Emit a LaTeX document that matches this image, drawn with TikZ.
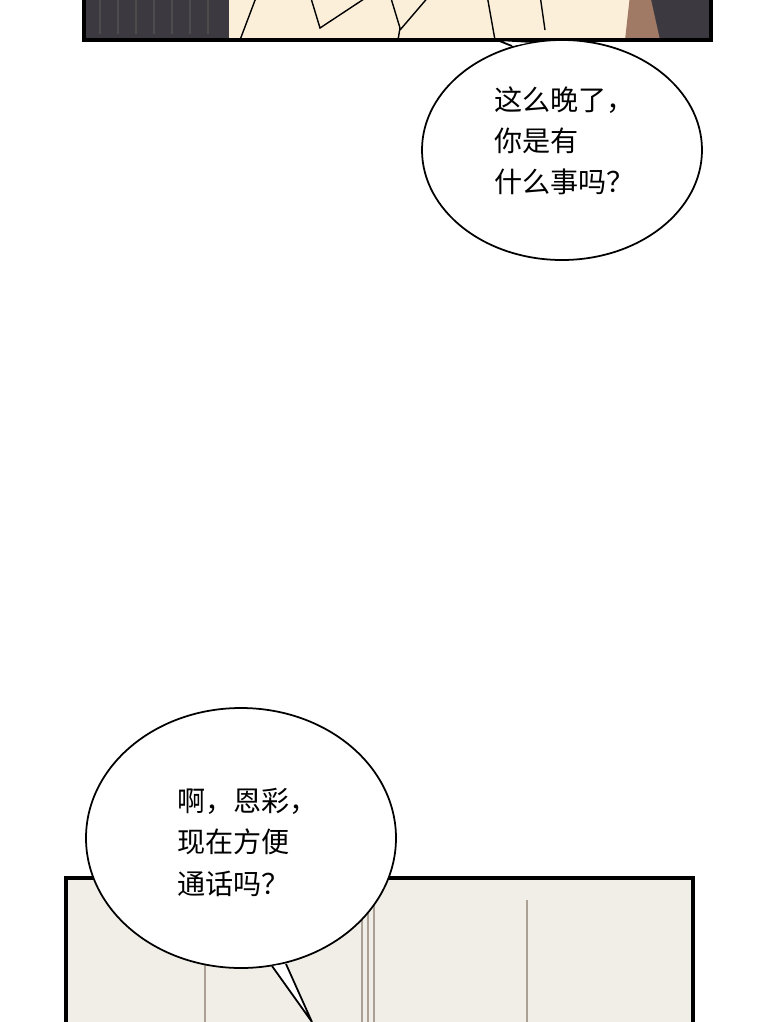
\documentclass[tikz,border=0pt]{standalone}
\usepackage{fontspec}
\newfontfamily\cjk{Noto Sans CJK SC}
\usetikzlibrary{positioning}
\definecolor{nightgray}{RGB}{60,58,64}
\definecolor{skinbeige}{RGB}{251,239,217}
\definecolor{hairbrown}{RGB}{160,122,100}
\definecolor{wallbeige}{RGB}{241,238,232}
\definecolor{lineline}{RGB}{170,160,150}
\tikzset{
  panel/.style={draw=black, line width=1.8pt},
  bubble/.style={draw=black, fill=white, line width=1pt},
  speech/.style={font=\cjk\fontsize{16}{23.5}\selectfont, align=left, anchor=north west, inner sep=0pt}
}
\begin{document}
\begin{tikzpicture}[x=0.02cm, y=-0.02cm]
    \useasboundingbox (0,0) rectangle (760,1022);
    % Top panel
    \fill[nightgray] (84,-5) rectangle (711,40);
    \fill[skinbeige] (229,-5) -- (640,-5) -- (640,40) -- (229,40) -- cycle;
    \fill[hairbrown] (630,-5) -- (650,-5) -- (660,40) -- (625,40) -- cycle;
    \foreach \x in {100,118,136,154,172,190,208} {
        \draw[black!70, line width=0.6pt] (\x,-5) -- (\x,34);
    }
    \draw[line width=0.8pt] (257,-5) -- (240,40);
    \draw[line width=0.8pt] (310,-5) -- (320,28) -- (370,-5);
    \draw[line width=0.8pt] (390,-5) -- (400,28) -- (398,40);
    \draw[line width=0.8pt] (430,-5) -- (400,30);
    \draw[line width=0.8pt] (487,-5) -- (495,40);
    \draw[line width=0.8pt] (540,-5) -- (545,30);
    \draw[panel] (84,-5) -- (84,40) -- (711,40) -- (711,-5);
    % Bottom panel
    \fill[wallbeige] (66,878) rectangle (693,1030);
    \foreach \x in {205,362,368,374,527} {
        \draw[lineline, line width=0.6pt] (\x,900) -- (\x,1030);
    }
    \draw[panel] (66,1030) -- (66,878) -- (693,878) -- (693,1030);
    % Bubble 1
    \draw[bubble] (562,150) ellipse [x radius=140, y radius=110];
    \draw[bubble] (512,46) -- (497,40) -- (532,42);
    \node[speech] (t1) at (494,86) {这么晚了，\\你是有\\什么事吗？};
    % Bubble 2
    \draw[bubble] (241,838) ellipse [x radius=155, y radius=130];
    \draw[bubble] (272,966) -- (312,1022) -- (286,964);
    \node[speech] (t2) at (177,788) {啊，恩彩，\\现在方便\\通话吗？};
\end{tikzpicture}
\end{document}
